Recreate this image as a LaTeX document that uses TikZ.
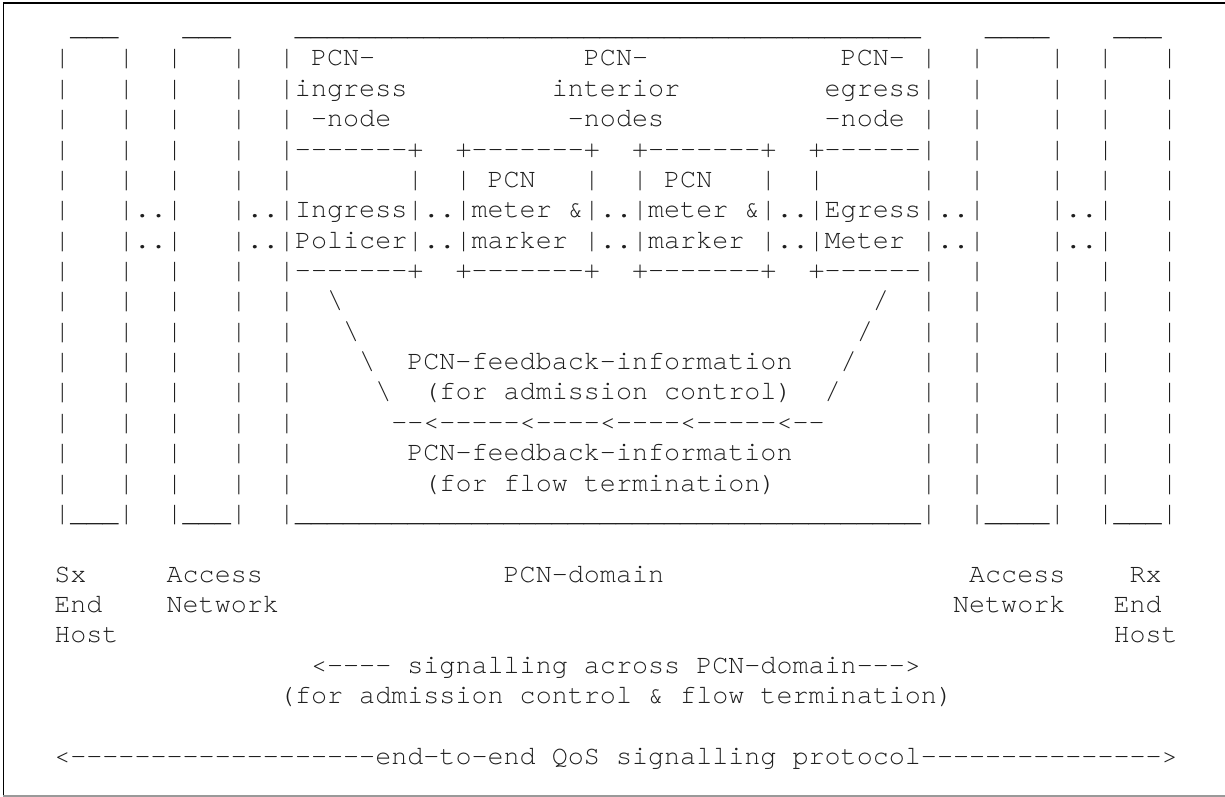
\documentclass[tikz,border=0pt]{standalone}
\usepackage{fontspec}
\setmonofont{texgyrecursor-regular.otf}[Ligatures={NoCommon,NoRare}]
\newcommand\Rep[2]{\ifnum#1>0 #2\expandafter\Rep\expandafter{\the\numexpr#1-1\relax}{#2}\fi}
\newcommand\s[1]{\hspace*{#1\fontcharwd\font`\x}}
\newcommand\bs{\textbackslash}
\newcommand\LP{|\s{3}|\s{2}|\s{3}|\s{2}|}
\newcommand\LD{|\s{3}|..|\s{3}|..|}
\newcommand\RP{|\s{2}|\s{4}|\s{2}|\s{3}|}
\newcommand\RD{|..|\s{4}|..|\s{3}|}
\tikzset{
  ln/.style={anchor=base west, inner sep=0pt, outer sep=0pt,
    font=\ttfamily\fontsize{13.375pt}{15pt}\selectfont, text=black!88},
  frameline/.style={line width=0.8pt, black},
  frameline2/.style={line width=0.8pt, black!40}
}
\begin{document}
\begin{tikzpicture}[x=0.5pt,y=-0.5pt]
\useasboundingbox (0,0) rectangle (1225,797);
% frame
\coordinate (tl) at (3.3,3.3);
\coordinate (tr) at (1225,3.3);
\coordinate (bl) at (3.3,795.8);
\coordinate (br) at (1225,795.8);
\draw[frameline] (tr) -- (tl) -- (bl);
\draw[frameline2] (bl) -- (br);
% rows of the figure
\def\C#1{6.1+16.05*#1}
\def\R#1{35.64+30.36*#1}
\node[ln] (r0) at ({\C{4}},{\R{0}}) {\_\_\_\s{4}\_\_\_\s{4}\Rep{39}{\_}\s{4}\_\_\_\_\s{4}\_\_\_};
\node[ln] (r1) at ({\C{3}},{\R{1}}) {\LP\s{1}PCN-\s{13}PCN-\s{12}PCN-\s{1}\RP};
\node[ln] (r2) at ({\C{3}},{\R{2}}) {\LP{}ingress\s{9}interior\s{9}egress\RP};
\node[ln] (r3) at ({\C{3}},{\R{3}}) {\LP\s{1}-node\s{11}-nodes\s{10}-node\s{1}\RP};
\node[ln] (r4) at ({\C{3}},{\R{4}}) {\LP-------+\s{2}+-------+\s{2}+-------+\s{2}+------\RP};
\node[ln] (r5) at ({\C{3}},{\R{5}}) {\LP\s{7}|\s{2}|\s{1}PCN\s{3}|\s{2}|\s{1}PCN\s{3}|\s{2}|\s{6}\RP};
\node[ln] (r6) at ({\C{3}},{\R{6}}) {\LD{}Ingress|..|meter\s{1}\&|..|meter\s{1}\&|..|Egress\RD};
\node[ln] (r7) at ({\C{3}},{\R{7}}) {\LD{}Policer|..|marker\s{1}|..|marker\s{1}|..|Meter\s{1}\RD};
\node[ln] (r8) at ({\C{3}},{\R{8}}) {\LP-------+\s{2}+-------+\s{2}+-------+\s{2}+------\RP};
\node[ln] (r9) at ({\C{3}},{\R{9}}) {\LP\s{2}\bs\s{33}/\s{2}\RP};
\node[ln] (r10) at ({\C{3}},{\R{10}}) {\LP\s{3}\bs\s{31}/\s{3}\RP};
\node[ln] (r11) at ({\C{3}},{\R{11}}) {\LP\s{4}\bs\s{2}PCN-feedback-information\s{3}/\s{4}\RP};
\node[ln] (r12) at ({\C{3}},{\R{12}}) {\LP\s{5}\bs\s{2}(for\s{1}admission\s{1}control)\s{2}/\s{5}\RP};
\node[ln] (r13) at ({\C{3}},{\R{13}}) {\LP\s{6}--<-----<----<----<-----<--\s{6}\RP};
\node[ln] (r14) at ({\C{3}},{\R{14}}) {\LP\s{7}PCN-feedback-information\s{8}\RP};
\node[ln] (r15) at ({\C{3}},{\R{15}}) {\LP\s{8}(for\s{1}f{}low\s{1}termination)\s{9}\RP};
\node[ln] (r16) at ({\C{3}},{\R{16}}) {|\_\_\_|\s{2}|\_\_\_|\s{2}|\Rep{39}{\_}|\s{2}|\_\_\_\_|\s{2}|\_\_\_|};
\node[ln] (r18) at ({\C{3}},{\R{18}}) {Sx\s{5}Access\s{15}PCN-domain\s{19}Access\s{4}Rx};
\node[ln] (r19) at ({\C{3}},{\R{19}}) {End\s{4}Network\s{42}Network\s{3}End};
\node[ln] (r20) at ({\C{3}},{\R{20}}) {Host\s{62}Host};
\node[ln] (r21) at ({\C{19}},{\R{21}}) {<----\s{1}signalling\s{1}across\s{1}PCN-domain--->};
\node[ln] (r22) at ({\C{17}},{\R{22}}) {(for\s{1}admission\s{1}control\s{1}\&\s{1}f{}low\s{1}termination)};
\node[ln] (r24) at ({\C{3}},{\R{24}}) {<\Rep{19}{-}end-to-end\s{1}QoS\s{1}signalling\s{1}protocol\Rep{15}{-}>};
\end{tikzpicture}
\end{document}
